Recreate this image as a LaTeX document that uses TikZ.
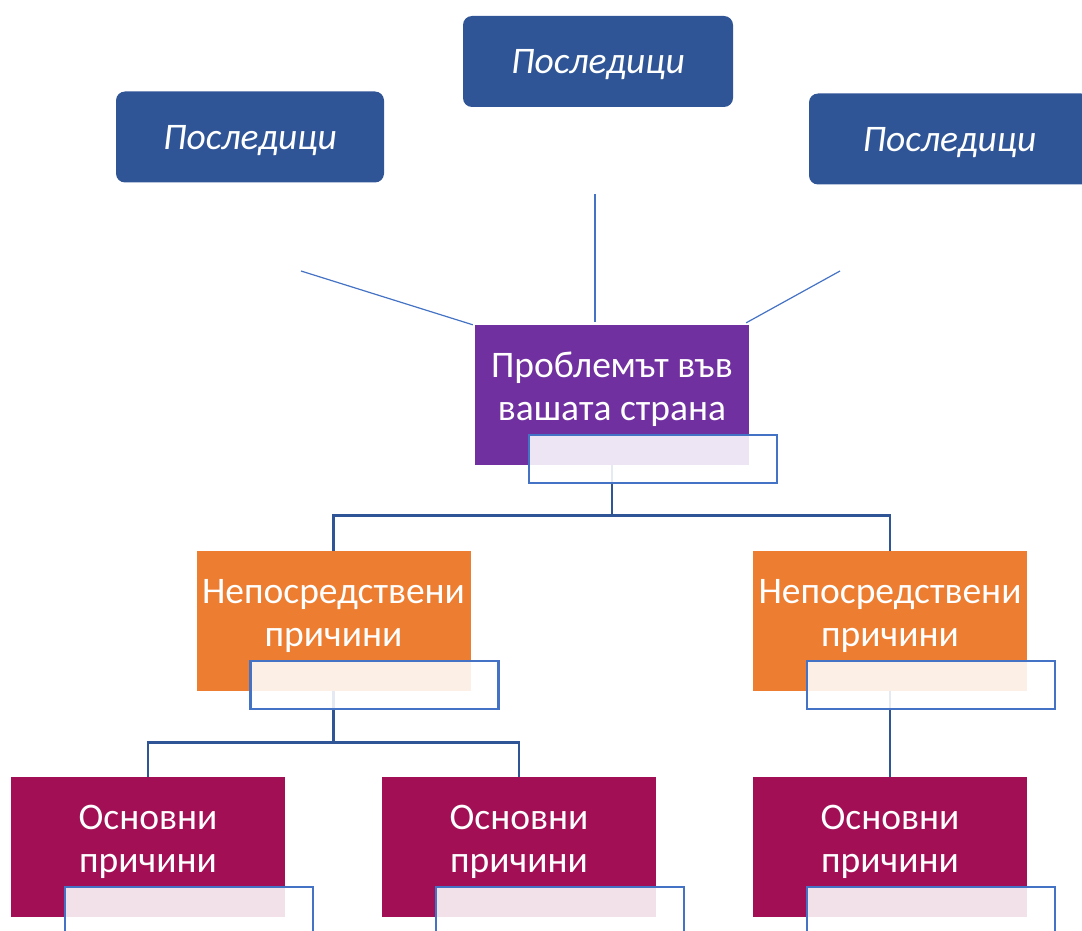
\documentclass[tikz,border=0pt]{standalone}
\usepackage{fontspec}
\setmainfont{Carlito}
\usetikzlibrary{positioning}

\definecolor{consblue}{HTML}{2F5597}
\definecolor{probpurple}{HTML}{7030A0}
\definecolor{causeorange}{HTML}{ED7D31}
\definecolor{rootmagenta}{HTML}{A20F55}
\definecolor{tagblue}{HTML}{4472C4}
\definecolor{treeblue}{HTML}{2F5597}

\begin{document}
\begin{tikzpicture}[x=1pt, y=-1pt,
  box/.style={rectangle, minimum width=274pt, minimum height=140pt, inner sep=0pt},
  cons/.style={rectangle, fill=consblue, rounded corners=9pt, minimum height=91pt,
    inner sep=0pt, text depth=0pt, text=white, font=\fontsize{37.5}{43}\selectfont\itshape},
  lbl/.style={text=white, align=center, font=\fontsize{37.5}{43}\selectfont},
  tag/.style={draw=tagblue, line width=2.5pt, fill=white, fill opacity=0.88,
    minimum width=248pt, minimum height=48pt, inner sep=0pt},
  tree/.style={draw=treeblue, line width=2.8pt},
  ray/.style={draw=tagblue, line width=1.2pt}]
  \useasboundingbox (0,0) rectangle (1082,931);

  % Consequences
  \node[cons, minimum width=270pt] (cons-top) at (598,61.5) {Последици};
  \node[cons, minimum width=268pt] (cons-left) at (250,137) {Последици};
  \node[cons, minimum width=281pt] (cons-right) at (949.5,139) {Последици};

  % Problem
  \node[box, fill=probpurple] (prob) at (612,395) {};
  \node[lbl] (prob-txt) at ([yshift=5.5pt]prob.center) {Проблемът във\\вашата страна};

  \coordinate (ray-l) at (301,271);
  \coordinate (ray-m) at (595,194);
  \coordinate (ray-r) at (840,271);
  \draw[ray] (ray-l) -- ([xshift=-2pt]prob.north west);
  \draw[ray] (ray-m) -- ([yshift=3pt]ray-m |- prob.north);
  \draw[ray] (ray-r) -- ([xshift=-3pt,yshift=2pt]prob.north east);

  % Immediate causes
  \node[box, fill=causeorange] (ic-l) at (333.5,621) {};
  \node[box, fill=causeorange] (ic-r) at (890,621) {};
  \foreach \n in {ic-l, ic-r}
    \node[lbl] (\n-txt) at ([yshift=5.5pt]\n.center) {Непосредствени\\причини};

  % Root causes
  \node[box, fill=rootmagenta] (rc-1) at (148,847) {};
  \node[box, fill=rootmagenta] (rc-2) at (519,847) {};
  \node[box, fill=rootmagenta] (rc-3) at (890,847) {};
  \foreach \n in {rc-1, rc-2, rc-3}
    \node[lbl] (\n-txt) at ([yshift=5pt]\n.center) {Основни\\причини};

  % Tree
  \draw[tree] (prob.south) -- ++(0,50) -| (ic-l.north);
  \draw[tree] (prob.south) -- ++(0,50) -| (ic-r.north);
  \draw[tree] (ic-l.south) -- ++(0,51) -| (rc-1.north);
  \draw[tree] (ic-l.south) -- ++(0,51) -| (rc-2.north);
  \draw[tree] (ic-r.south) -- (rc-3.north);

  % Text tags
  \foreach \n in {prob, ic-l, ic-r, rc-1, rc-2, rc-3}
    \node[tag] (\n-tag) at ([xshift=41pt,yshift=6pt]\n.south) {};
\end{tikzpicture}
\end{document}
